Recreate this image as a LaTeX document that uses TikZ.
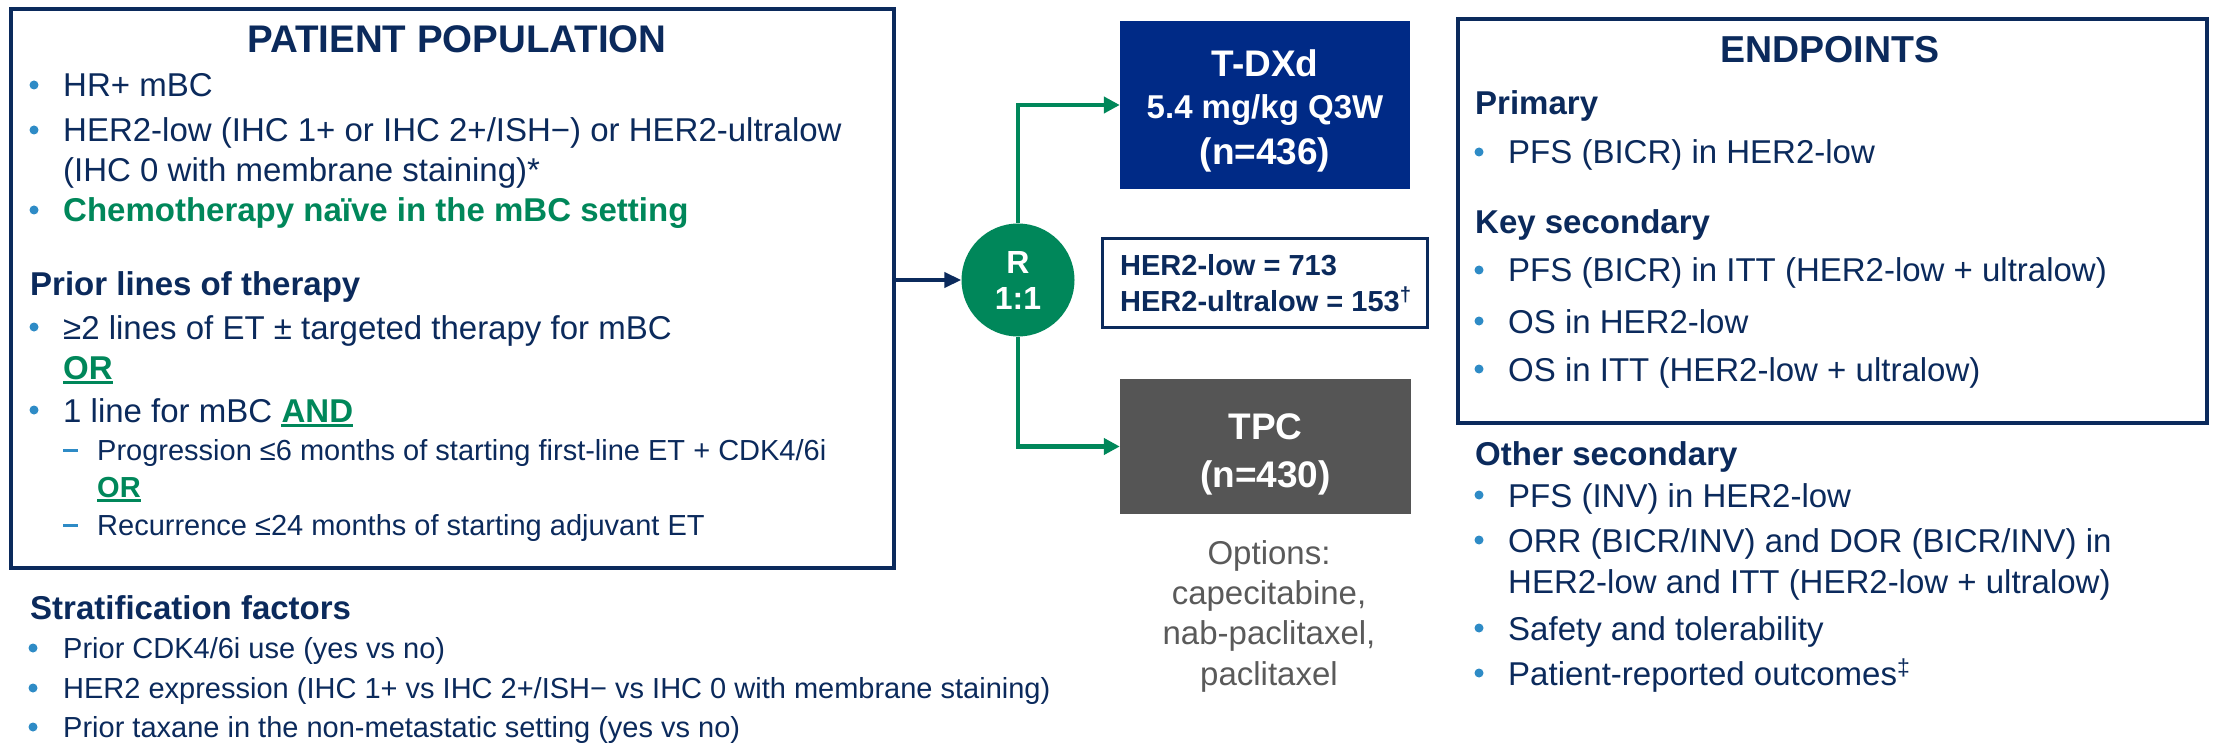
\documentclass[tikz,border=0pt]{standalone}
\usepackage{fontspec}
\setmainfont{Liberation Sans}
\usetikzlibrary{arrows.meta,positioning}
\definecolor{navy}{HTML}{0B2A5C}
\definecolor{trialgreen}{HTML}{00875A}
\definecolor{tdxdblue}{HTML}{002A86}
\definecolor{tpcgrey}{HTML}{555555}
\definecolor{optgrey}{HTML}{5A5A5A}
\definecolor{dotblue}{HTML}{2E8BC6}

\tikzset{
    txt/.style={font=\fontsize{33}{40}\selectfont, text=navy, inner sep=0, anchor=base west},
    small/.style={txt, font=\fontsize{29}{35}\selectfont},
    head/.style={txt, font=\fontsize{33}{40}\selectfont\bfseries},
    keyword/.style={txt, font=\fontsize{33}{40}\selectfont\bfseries, text=trialgreen},
    smallkey/.style={txt, font=\fontsize{29}{35}\selectfont\bfseries, text=trialgreen},
    title/.style={font=\fontsize{37.5}{42}\selectfont\bfseries, text=navy, inner sep=0, anchor=base},
    frame/.style={draw=navy, line width=4pt, inner sep=0, anchor=north west},
    armbox/.style={rectangle, inner sep=0},
    armtxt/.style={font=\fontsize{37}{42}\selectfont\bfseries, text=white, inner sep=0, anchor=base},
    uline/.style={draw=trialgreen, line width=3pt},
    flow/.style={draw=trialgreen, line width=4.5pt, -{Triangle[length=16pt,width=16pt]}},
    linkarrow/.style={draw=navy, line width=4pt, -{Triangle[length=17pt,width=15pt]}},
    pics/dot/.style={
        code={
            \fill[dotblue] (0,0) circle[radius=4.5pt];
        }
    },
    pics/dash/.style={
        code={
            \fill[dotblue] (-7.5,-1.5) rectangle (7.5,1.5);
        }
    }
}

\begin{document}
\begin{tikzpicture}[x=1pt,y=-1pt]
                      \useasboundingbox[fill=white] (0,0) rectangle (2216,743);

                      \node[frame, minimum width=883, minimum height=559] (popbox) at (9,7) {};
                      \node[title, font=\fontsize{38.5}{42}\selectfont\bfseries] (poptitle) at (457,53) {PATIENT POPULATION};
                      \pic[shift={(34,85)}]{dot};
                      \node[txt] (hr) at (63,97) {HR+ mBC};
                      \pic[shift={(34,130)}]{dot};
                      \node[txt] (her) at (63,142) {HER2-low (IHC 1+ or IHC 2+/ISH−) or HER2-ultralow};
                      \node[txt] (ihc) at (63,182) {(IHC 0 with membrane staining)*};
                      \pic[shift={(34,210)}]{dot};
                      \node[keyword] (chemo) at (63,222) {Chemotherapy naïve in the mBC setting};

                      \node[head] (prior) at (30,295) {Prior lines of therapy};
                      \pic[shift={(34,327)}]{dot};
                      \node[txt] (two) at (63,339) {≥2 lines of ET ± targeted therapy for mBC};
                      \node[keyword] (orA) at (63,379) {OR};
                      \draw[uline] ([yshift=-3.5]orA.base west) -- ([yshift=-3.5]orA.base east);
                      \pic[shift={(34,410)}]{dot};
                      \node[txt] (one) at (63,422) {1 line for mBC};
                      \node[keyword] (and) at ([xshift=9]one.base east) {AND};
                      \draw[uline] ([yshift=-3.5]and.base west) -- ([yshift=-3.5]and.base east);
                      \pic[shift={(70,450)}]{dash};
                      \node[small] (prog) at (97,460) {Progression ≤6 months of starting first-line ET + CDK4/6i};
                      \node[smallkey] (orB) at (97,497) {OR};
                      \draw[uline] ([yshift=-3]orB.base west) -- ([yshift=-3]orB.base east);
                      \pic[shift={(70,525)}]{dash};
                      \node[small] (recur) at (97,535) {Recurrence ≤24 months of starting adjuvant ET};

                      \node[head] (strat) at (30,619) {Stratification factors};
                      \pic[shift={(33,648)}]{dot};
                      \node[small] (cdk) at (63,658) {Prior CDK4/6i use (yes vs no)};
                      \pic[shift={(33,688)}]{dot};
                      \node[small] (expr) at (63,698) {HER2 expression (IHC 1+ vs IHC 2+/ISH− vs IHC 0 with membrane staining)};
                      \pic[shift={(33,727)}]{dot};
                      \node[small] (taxane) at (63,737) {Prior taxane in the non-metastatic setting (yes vs no)};

                      \node[circle, fill=trialgreen, minimum size=113, inner sep=0, text=white, align=center,
                            font=\fontsize{32}{36}\selectfont\bfseries] (rand) at (1018,280) {R\\1:1};

                      \node[armbox, fill=tdxdblue, minimum width=290, minimum height=168] (tdxd) at (1265,105) {};
                      \node[armtxt] (tdxdname) at (1265,77) {T-DXd};
                      \node[armtxt, font=\fontsize{33}{40}\selectfont\bfseries] (tdxddose) at (1265,119) {5.4 mg/kg Q3W};
                      \node[armtxt] (tdxdn) at (1265,165) {(n=436)};

                      \node[armbox, draw=navy, line width=3pt, fill=white, minimum width=325, minimum height=88] (counts) at (1264.5,283) {};
                      \node[small, font=\fontsize{29}{35}\selectfont\bfseries] (lowcount) at (1120,276) {HER2-low = 713};
                      \node[small, font=\fontsize{29}{35}\selectfont\bfseries] (ultracount) at (1120,311) {HER2-ultralow = 153\textsuperscript{†}};

                      \node[armbox, fill=tpcgrey, minimum width=291, minimum height=135] (tpc) at (1265.5,446.5) {};
                      \node[armtxt] (tpcname) at (1265.5,439) {TPC};
                      \node[armtxt] (tpcn) at (1265.5,487) {(n=430)};
                      \node[font=\fontsize{33}{40.3}\selectfont, text=optgrey, align=center, inner sep=0, anchor=north]
                            (opts) at (1269,540) {Options:\\capecitabine,\\nab-paclitaxel,\\paclitaxel};

                      \draw[linkarrow] (rand.west -| popbox.east) -- (rand.west);
                      \draw[flow] (rand.north) |- (tdxd.west);
                      \draw[flow] (rand.south) |- (tpc.west);

                      \node[frame, minimum width=749, minimum height=404] (endbox) at (1456,17) {};
                      \node[title] (endtitle) at (1830,63) {ENDPOINTS};
                      \node[head] (primary) at (1475,115) {Primary};
                      \pic[shift={(1479,152)}]{dot};
                      \node[txt] (pfs) at (1508,164) {PFS (BICR) in HER2-low};
                      \node[head] (keysec) at (1475,234) {Key secondary};
                      \pic[shift={(1479,270)}]{dot};
                      \node[txt] (pfsitt) at (1508,282) {PFS (BICR) in ITT (HER2-low + ultralow)};
                      \pic[shift={(1479,321)}]{dot};
                      \node[txt] (os) at (1508,333) {OS in HER2-low};
                      \pic[shift={(1479,369)}]{dot};
                      \node[txt] (ositt) at (1508,381) {OS in ITT (HER2-low + ultralow)};

                      \node[head] (othersec) at (1475,465) {Other secondary};
                      \pic[shift={(1479,495)}]{dot};
                      \node[txt] (pfsinv) at (1508,507) {PFS (INV) in HER2-low};
                      \pic[shift={(1479,540)}]{dot};
                      \node[txt] (orr) at (1508,552) {ORR (BICR/INV) and DOR (BICR/INV) in};
                      \node[txt] (orr2) at (1508,593) {HER2-low and ITT (HER2-low + ultralow)};
                      \pic[shift={(1479,628)}]{dot};
                      \node[txt] (safety) at (1508,640) {Safety and tolerability};
                      \pic[shift={(1479,673)}]{dot};
                      \node[txt] (pro) at (1508,685) {Patient-reported outcomes\textsuperscript{‡}};
                  \end{tikzpicture}
\end{document}
